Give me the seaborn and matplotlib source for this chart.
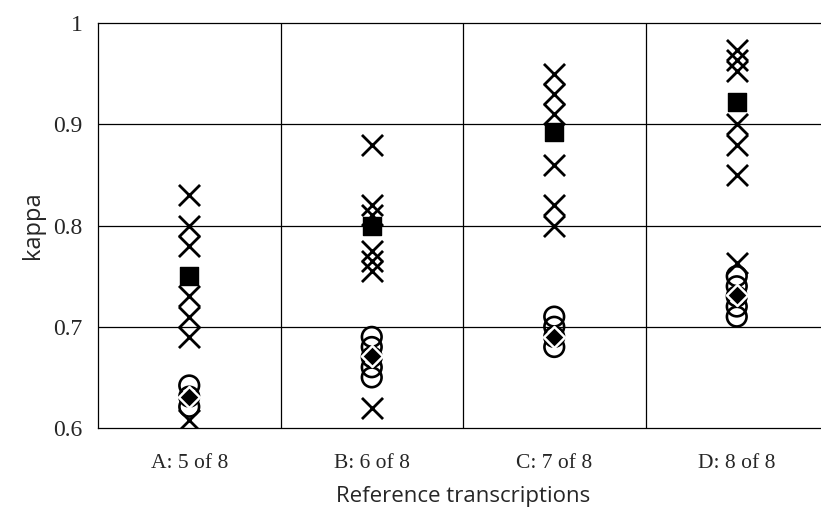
import matplotlib
matplotlib.use("Agg")
import matplotlib.pyplot as plt
import seaborn as sns
import pandas as pd

categories = ["A: 5 of 8", "B: 6 of 8", "C: 7 of 8", "D: 8 of 8"]

cross_A = [0.83, 0.80, 0.78, 0.73, 0.71, 0.69, 0.608]
cross_B = [0.88, 0.82, 0.81, 0.775, 0.765, 0.755, 0.62]
cross_C = [0.95, 0.93, 0.91, 0.86, 0.82, 0.80]
cross_D = [0.973, 0.963, 0.953, 0.90, 0.88, 0.85, 0.763]

circle_A = [0.642, 0.631, 0.621]
circle_B = [0.69, 0.68, 0.67, 0.66, 0.65]
circle_C = [0.71, 0.70, 0.69, 0.68]
circle_D = [0.75, 0.74, 0.73, 0.72, 0.71]

square_vals = [0.75, 0.80, 0.892, 0.922]
diamond_vals = [0.631, 0.671, 0.69, 0.731]

y_ticks = [0.6, 0.7, 0.8, 0.9, 1.0]
y_tick_labels = ["0.6", "0.7", "0.8", "0.9", "1"]


def long_df(groups):
    rows = []
    for cat, vals in zip(categories, groups):
        for v in vals:
            rows.append({"group": cat, "kappa": v})
    return pd.DataFrame(rows)


df_cross = long_df([cross_A, cross_B, cross_C, cross_D])
df_circle = long_df([circle_A, circle_B, circle_C, circle_D])
df_square = pd.DataFrame({"group": categories, "kappa": square_vals})
df_diamond = pd.DataFrame({"group": categories, "kappa": diamond_vals})

sns.set_style("white")
fig = plt.figure(figsize=(8.21, 5.12), dpi=100)
ax = fig.add_axes([98 / 821, 1 - 428 / 512, 730 / 821, 405 / 512])

order_pos = {c: i for i, c in enumerate(categories)}
for d in (df_cross, df_circle, df_square, df_diamond):
    d["pos"] = d["group"].map(order_pos)

sns.scatterplot(data=df_cross, x="pos", y="kappa", marker="x", color="black",
                s=230, linewidth=2.0, ax=ax, zorder=3, legend=False)
sns.scatterplot(data=df_circle, x="pos", y="kappa", marker="o", facecolor="none",
                edgecolor="black", s=200, linewidth=1.9, ax=ax, zorder=4, legend=False)
sns.scatterplot(data=df_square, x="pos", y="kappa", marker="s", color="black",
                edgecolor="black", s=170, linewidth=1.0, ax=ax, zorder=5, legend=False)
sns.scatterplot(data=df_diamond, x="pos", y="kappa", marker="D", color="black",
                edgecolor="white", s=115, linewidth=1.8, ax=ax, zorder=6, legend=False)

ax.set_xlim(-0.5, len(categories) - 0.5)
ax.set_ylim(0.6, 1.0)
ax.set_xticks(range(len(categories)))
ax.set_xticklabels(categories, fontfamily="Liberation Serif", fontsize=15.5)
ax.set_yticks(y_ticks)
ax.set_yticklabels(y_tick_labels, fontfamily="Liberation Serif", fontsize=17)
ax.tick_params(axis="both", length=0)
ax.tick_params(axis="x", pad=19)
ax.tick_params(axis="y", pad=11)

for y in y_ticks[1:-1]:
    ax.axhline(y, color="black", linewidth=0.9, zorder=1)
for i in range(1, len(categories)):
    ax.axvline(i - 0.5, color="black", linewidth=0.9, zorder=1)

for side in ("left", "bottom", "top"):
    ax.spines[side].set_color("black")
    ax.spines[side].set_linewidth(0.9)
ax.spines["right"].set_visible(False)

ax.set_xlabel("Reference transcriptions", fontfamily="Open Sans", fontsize=16, labelpad=9)
ax.set_ylabel("kappa", fontfamily="Open Sans", fontsize=17, labelpad=6)

fig.savefig("out.png", dpi=100)
